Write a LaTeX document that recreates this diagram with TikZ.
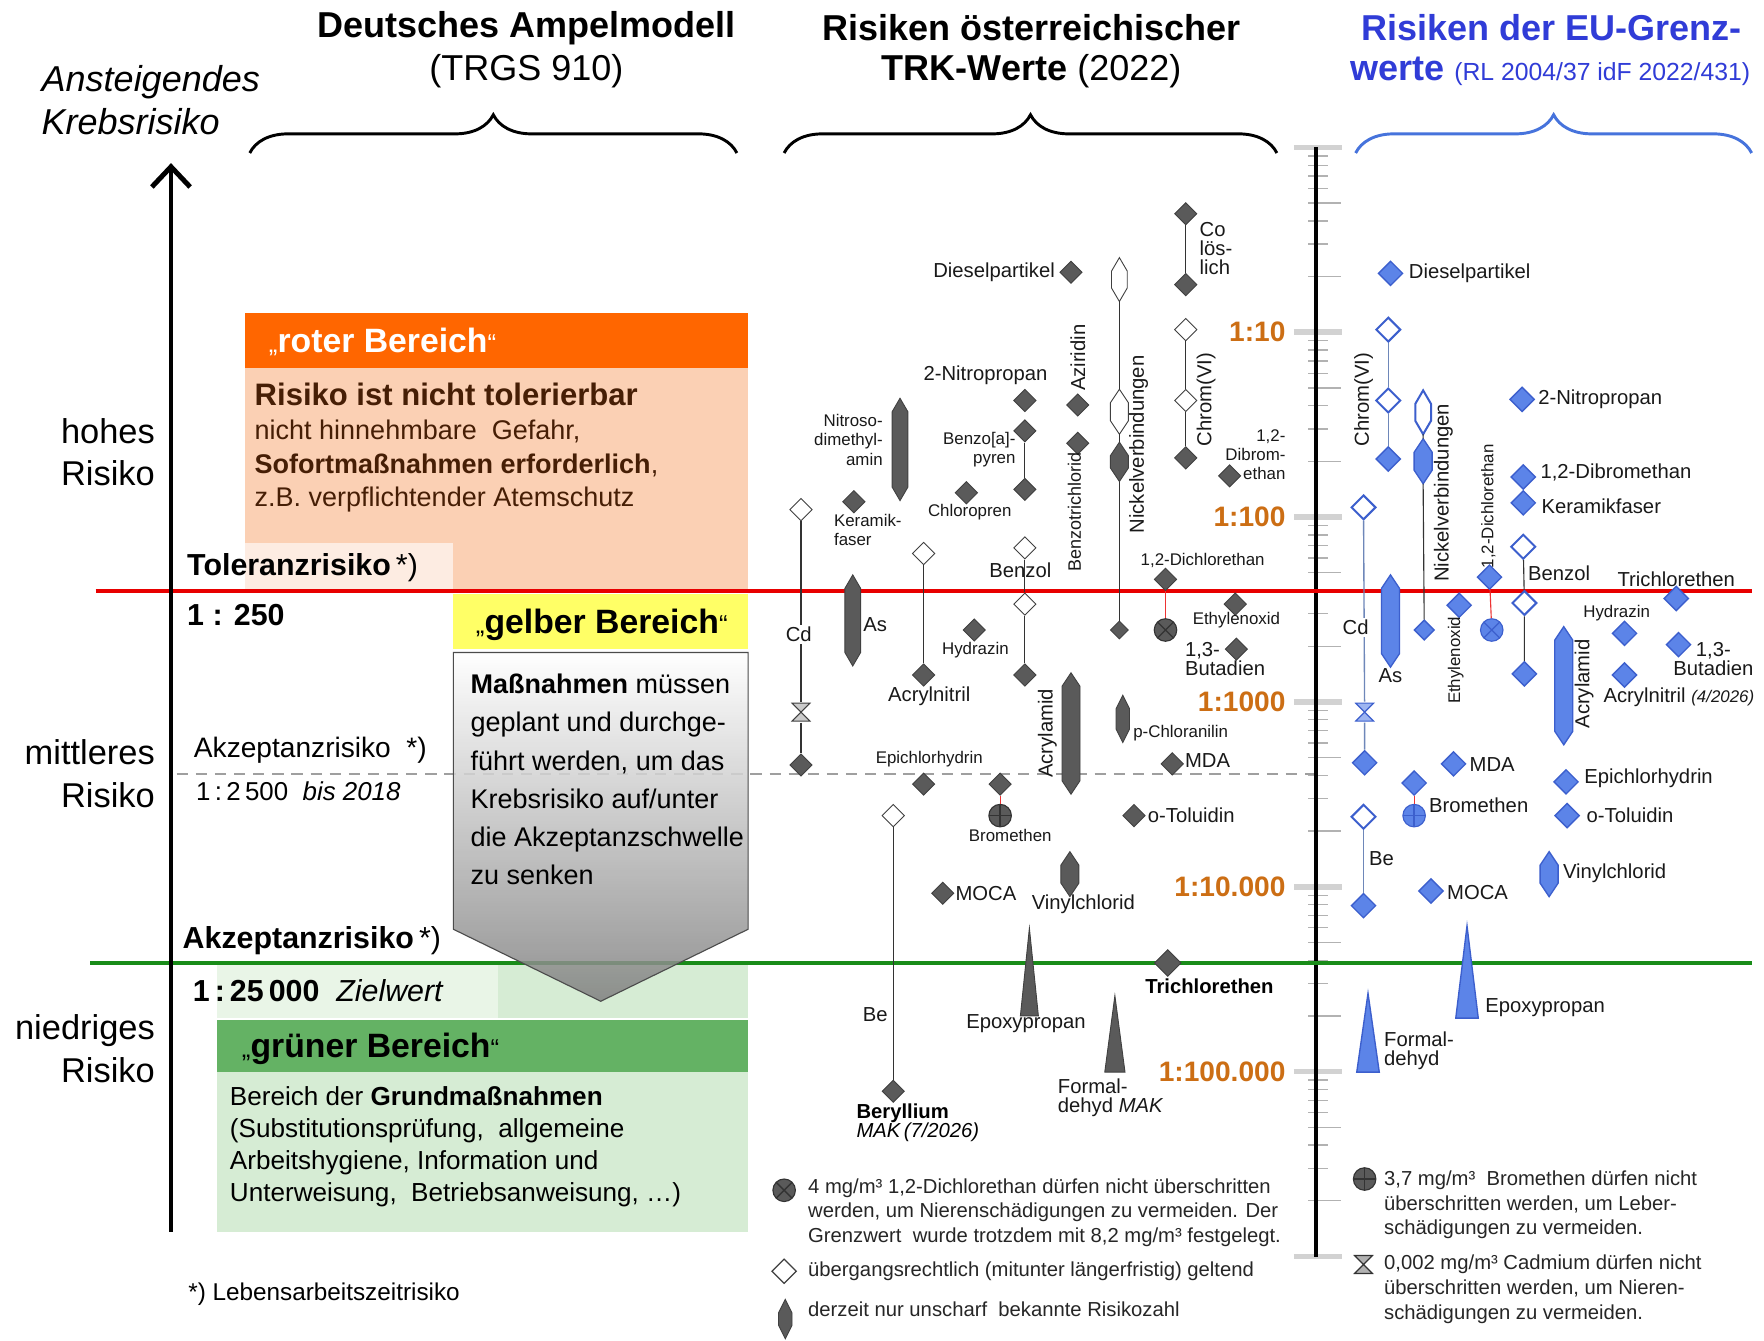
\documentclass[tikz,border=0pt]{standalone}
\usepackage{fontspec}
\setmainfont{Liberation Sans}
\usetikzlibrary{shapes.geometric, decorations.pathreplacing, arrows.meta}

\definecolor{mkgray}{RGB}{90,90,90}
\definecolor{eublue}{RGB}{92,132,232}
\definecolor{eudark}{RGB}{60,95,205}
\definecolor{eugray}{RGB}{110,135,185}
\definecolor{eutitle}{RGB}{48,60,215}
\definecolor{eubrace}{RGB}{70,115,220}
\definecolor{scaleor}{RGB}{204,110,20}
\definecolor{rothead}{RGB}{255,102,0}
\definecolor{rotbody}{RGB}{251,208,180}
\definecolor{rotlight}{RGB}{253,236,226}
\definecolor{rottext}{RGB}{70,30,5}
\definecolor{gelb}{RGB}{255,255,102}
\definecolor{gruenhead}{RGB}{100,178,100}
\definecolor{gruenbody}{RGB}{214,236,212}
\definecolor{gruenlight}{RGB}{233,245,231}
\definecolor{linered}{RGB}{232,0,0}
\definecolor{linegreen}{RGB}{25,140,25}

\newcommand{\qm}[1]{{\mdseries\fontsize{11.5}{11.5}\selectfont#1}}
% hexagonal "fuzzy" marker: name, x, ytop, ybot, half width, style
\newcommand{\spindle}[6]{%
  \draw[#6] (#2,#3) -- (#2+#5,#3+12) -- (#2+#5,#4-12) -- (#2,#4) -- (#2-#5,#4-12) -- (#2-#5,#3+12) -- cycle;
  \coordinate (#1-t) at (#2,#3);
  \coordinate (#1-b) at (#2,#4);}
% triangle marker: name, x, yapex, ybase, half width, style
\newcommand{\spike}[6]{%
  \draw[#6] (#2,#3) -- (#2+#5,#4) -- (#2-#5,#4) -- cycle;
  \coordinate (#1-t) at (#2,#3);}

\tikzset{
  mk/.style={diamond, draw=black!75, fill=mkgray, minimum size=10pt, inner sep=0pt, line width=0.4pt},
  mko/.style={mk, fill=white},
  eu/.style={diamond, draw=eudark, fill=eublue, minimum size=11pt, inner sep=0pt, line width=0.6pt},
  euo/.style={eu, fill=white, line width=0.9pt},
  spf/.style={draw=black!75, fill=mkgray, line width=0.4pt},
  spo/.style={draw=black!75, fill=white, line width=0.4pt},
  euf/.style={draw=eudark, fill=eublue, line width=0.6pt},
  eufo/.style={draw=eudark, fill=white, line width=0.9pt},
  lb/.style={font=\fontsize{9}{8.5}\selectfont, inner sep=0.5pt, text=black!90},
  sl/.style={font=\fontsize{7.5}{8.5}\selectfont, inner sep=0.5pt, text=black!90},
  lg/.style={font=\fontsize{9}{11}\selectfont, inner sep=0pt, text=black!85},
  scl/.style={font=\fontsize{12.5}{13}\selectfont\bfseries, text=scaleor, inner sep=0pt},
  link/.style={black!80, line width=0.5pt},
  eulink/.style={eugray, line width=0.6pt},
  redlink/.style={linered!80, line width=0.5pt},
  xmark/.style 2 args={circle, draw=#2, fill=#1, minimum size=10pt, inner sep=0pt, line width=0.5pt,
    path picture={\draw[#2, line width=0.6pt]
      ([shift={(45:5pt)}]path picture bounding box.center) -- ([shift={(225:5pt)}]path picture bounding box.center)
      ([shift={(135:5pt)}]path picture bounding box.center) -- ([shift={(315:5pt)}]path picture bounding box.center);}},
  pmark/.style 2 args={circle, draw=#2, fill=#1, minimum size=10pt, inner sep=0pt, line width=0.5pt,
    path picture={\draw[#2, line width=0.6pt]
      ([shift={(0:5pt)}]path picture bounding box.center) -- ([shift={(180:5pt)}]path picture bounding box.center)
      ([shift={(90:5pt)}]path picture bounding box.center) -- ([shift={(270:5pt)}]path picture bounding box.center);}},
  hglass/.style 2 args={minimum size=9pt, inner sep=0pt,
    path picture={\draw[#2, fill=#1, line width=0.5pt]
      ([shift={(-4pt,4pt)}]path picture bounding box.center) -- ++(8pt,0pt) -- ++(-8pt,-8pt) -- ++(8pt,0pt) -- cycle;}},
  brc/.style={decorate, decoration={brace, amplitude=17pt}, line width=1.3pt}
}

\begin{document}
\begin{tikzpicture}[x=0.5pt, y=-0.5pt]
\useasboundingbox (0,0) rectangle (1568,1192);
\fill[white] (0,0) rectangle (1568,1192);

% titles
\node[font=\fontsize{16}{19}\selectfont\bfseries] (t1a) at (468,25) {Deutsches Ampelmodell};
\node[font=\fontsize{16}{19}\selectfont] (t1b) at (468,63) {(TRGS 910)};
\node[font=\fontsize{16}{19}\selectfont\bfseries] (t2a) at (917,25) {Risiken österreichischer};
\node[font=\fontsize{16}{19}\selectfont] (t2b) at (917,63) {\textbf{TRK-Werte} (2022)};
\node[font=\fontsize{16}{19}\selectfont\bfseries, text=eutitle] (t3a) at (1379,25) {Risiken der EU-Grenz-};
\node[font=\fontsize{16}{19}\selectfont, text=eutitle] (t3b) at (1378,63) {\textbf{werte} {\fontsize{11}{12}\selectfont(RL 2004/37 idF 2022/431)}};
\node[font=\fontsize{16}{19}\selectfont\itshape, anchor=west, align=left] (axt) at (30,89) {Ansteigendes\\Krebsrisiko};

\draw[brc] (222,136) -- (655,136);
\draw[brc] (697,136) -- (1135,136);
\draw[brc, eubrace] (1205,136) -- (1557,136);

% left column boxes
\fill[rothead] (218,278) rectangle (665,327);
\fill[rotbody] (218,327) rectangle (665,524);
\fill[rotlight] (218,483) rectangle (403,524);
\fill[gelb] (403,528) rectangle (665,577);
\fill[gruenlight] (193,858) rectangle (443,905);
\fill[gruenbody] (443,858) rectangle (665,905);
\fill[gruenhead] (193,907) rectangle (665,953);
\fill[gruenbody] (193,953) rectangle (665,1095);

\node[anchor=west, font=\fontsize{15}{15}\selectfont\bfseries, text=white] (rot) at (232,304) {\qm{„}roter Bereich\qm{“}};
\node[anchor=west, align=left, font=\fontsize{12}{15}\selectfont, text=rottext, inner sep=0pt] (rottxt) at (226,398)
  {{\fontsize{13.8}{15}\selectfont\bfseries Risiko ist nicht tolerierbar}\\nicht hinnehmbare\ \ Gefahr,\\\textbf{Sofortmaßnahmen erforderlich},\\z.B.\ verpflichtender Atemschutz};
\node[anchor=west, font=\fontsize{15}{15}\selectfont\bfseries] (gelb) at (416,555) {\qm{„}gelber Bereich\qm{“}};
\node[anchor=west, font=\fontsize{15}{15}\selectfont\bfseries] (gruen) at (208,932) {\qm{„}grüner Bereich\qm{“}};
\node[anchor=west, align=left, font=\fontsize{11.6}{14.2}\selectfont, inner sep=0pt] (gruentxt) at (204,1019)
  {Bereich der \textbf{Grundmaßnahmen}\\(Substitutionsprüfung,\ \ allgemeine\\Arbeitshygiene, Information und\\Unterweisung,\ \ Betriebsanweisung, …)};

% limits
\node[anchor=west, font=\fontsize{13.5}{14}\selectfont, inner sep=0pt] (tol) at (166,505) {\textbf{Toleranzrisiko}\,*)};
\node[anchor=west, font=\fontsize{13.5}{14}\selectfont\bfseries, inner sep=0pt] (tolv) at (166,547) {1 : 250};
\node[anchor=west, font=\fontsize{12.5}{14}\selectfont, inner sep=0pt] (akz1) at (172,667) {Akzeptanzrisiko\ \ *)};
\node[anchor=west, font=\fontsize{11.5}{14}\selectfont, inner sep=0pt] (akz1v) at (174,703) {1\,:\,2\,500\ \ \textit{bis 2018}};
\node[anchor=west, font=\fontsize{13.5}{14}\selectfont, inner sep=0pt] (akz2) at (162,836) {\textbf{Akzeptanzrisiko}\,*)};
\node[anchor=west, font=\fontsize{13.5}{14}\selectfont, inner sep=0pt] (akz2v) at (171,881) {\textbf{1\,:\,25\,000}\ \ \textit{Zielwert}};

\node[anchor=east, align=right, font=\fontsize{15.3}{19}\selectfont, inner sep=0pt] (hoch) at (138,402) {hohes\\Risiko};
\node[anchor=east, align=right, font=\fontsize{15.3}{19}\selectfont, inner sep=0pt] (mittel) at (138,688) {mittleres\\Risiko};
\node[anchor=east, align=right, font=\fontsize{15.3}{19}\selectfont, inner sep=0pt] (niedrig) at (138,932) {niedriges\\Risiko};
\node[anchor=west, font=\fontsize{10.8}{12}\selectfont, inner sep=0pt] (fn) at (167,1150) {*) Lebensarbeitszeitrisiko};

% scale
\draw[gray!75, line width=1.1pt, dash pattern=on 5pt off 3.5pt] (157,688) -- (1168,688);
\foreach \j in {0,...,6}
  \draw[gray!35, line width=2.5pt] (1150,{131+164.3*\j}) -- (1193,{131+164.3*\j});
\foreach \k in {0,...,5}{
  \foreach \m in {2,...,9}{
    \pgfmathsetmacro{\ty}{131+164.3*(\k+1-log10(\m))}
    \pgfmathsetmacro{\tx}{(\m==2 || \m==5) ? 1192 : 1180}
    \draw[gray!60, line width=0.6pt] (1163,\ty) -- (\tx,\ty);
  }
}
\draw[line width=1.6pt] (1170,131) -- (1170,1117);
\foreach \j/\t in {1/1:10, 2/1:100, 3/1:1000, 4/1:10.000, 5/1:100.000}
  \node[scl, anchor=east] (s\j) at (1143,{131+164.3*\j}) {\t};

\draw[linered, line width=1.8pt] (85,525) -- (1557,525);
\draw[linegreen, line width=1.8pt] (80,856) -- (1557,856);
\draw[line width=2.2pt, -{Straight Barb[length=9pt, width=17pt]}] (152,1095) -- (152,145);

\draw[black!70, line width=0.5pt, top color=white, bottom color=black!50, fill opacity=0.85]
  (403,580) -- (665,580) -- (665,826) -- (534,890) -- (403,826) -- cycle;
\node[anchor=west, align=left, font=\fontsize{12}{17}\selectfont, inner sep=0pt] (grautxt) at (418,693)
  {\textbf{Maßnahmen} müssen\\geplant\ und\ durchge-\\führt\ werden,\ um\ das\\Krebsrisiko auf/unter\\die Akzeptanzschwelle\\zu\ senken};

% Austrian TRK values
\node[mk] (co1) at (1054,190) {};
\node[mk] (co2) at (1054,253) {};
\draw[link] (co1) -- (co2);
\node[lb, anchor=west, align=left] (l-co) at (1065,221) {Co\\lös-\\lich};
\node[mk] (diesel) at (952,242) {};
\node[lb, anchor=east] (l-diesel) at (939,242) {Dieselpartikel};

\spindle{ni1}{995}{229}{268}{7}{spo}
\spindle{ni2}{995}{346}{386}{8}{spo}
\spindle{ni3}{995}{393}{428}{8}{spf}
\node[mk, minimum size=8pt] (ni4) at (995,560) {};
\draw[link] (ni1-b) -- (ni2-t) (ni2-b) -- (ni3-t) (ni3-b) -- (ni4);
\node[lb, rotate=90] (l-ni) at (1012,395) {Nickelverbindungen};

\node[mko] (cr1) at (1054,293) {};
\node[mko] (cr2) at (1054,356) {};
\node[mk] (cr3) at (1054,407) {};
\draw[link] (cr1) -- (cr2) -- (cr3);
\node[lb, rotate=90] (l-cr) at (1072,355) {Chrom(VI)};

\node[mk] (dbe) at (1093,423) {};
\node[sl, anchor=east, align=right] (l-dbe) at (1144,404) {1,2-\\Dibrom-\\ethan};
\node[mk] (azi) at (958,360) {};
\node[lb, rotate=90] (l-azi) at (958,318) {Aziridin};
\node[mk] (btc) at (958,394) {};
\node[sl, font=\fontsize{8}{8}\selectfont, rotate=90] (l-btc) at (955,455) {Benzotrichlorid};
\node[mk] (nip) at (911,356) {};
\node[lb] (l-nip) at (876,334) {2-Nitropropan};
\node[mk] (bap1) at (911,383) {};
\node[mk] (bap2) at (911,435) {};
\draw[link] (bap1) -- (bap2);
\node[sl, anchor=east, align=right] (l-bap) at (904,400) {Benzo[a]-\\pyren};
\node[mk] (cp) at (859,438) {};
\node[sl] (l-cp) at (862,455) {Chloropren};
\spindle{ndma}{800}{354}{445}{7}{spf}
\node[sl, anchor=east, align=right] (l-ndma) at (786,391) {Nitroso-\\dimethyl-\\amin};
\node[mk] (kf) at (759,446) {};
\node[sl, anchor=west, align=left] (l-kf) at (740,471) {Keramik-\\faser};

\node[mko] (cd1) at (712,453) {};
\node[hglass={white!80!black}{black!75}] (cd2) at (712,633) {};
\node[mk] (cd3) at (712,680) {};
\draw[link] (cd1) -- (cd2) -- (cd3);
\node[lb, fill=white, inner sep=1pt] (l-cd) at (710,564) {Cd};
\spindle{as}{758}{511}{592}{7}{spf}
\node[lb] (l-as) at (778,555) {As};
\node[mko] (an1) at (821,492) {};
\node[mk] (an2) at (821,600) {};
\draw[link] (an1) -- (an2);
\node[lb] (l-an) at (826,619) {Acrylnitril};
\node[mko] (bz1) at (911,487) {};
\node[mko] (bz2) at (911,537) {};
\node[mk] (bz3) at (911,600) {};
\draw[link] (bz1) -- (bz2) -- (bz3);
\node[lb] (l-bz) at (907,507) {Benzol};
\node[mk] (hyd) at (866,560) {};
\node[sl] (l-hyd) at (867,578) {Hydrazin};
\node[sl] (l-dce) at (1069,498) {1,2-Dichlorethan};
\node[mk] (dce1) at (1036,515) {};
\node[xmark={mkgray}{black!80}] (dce2) at (1036,560) {};
\draw[redlink] (dce1) -- (dce2);
\node[mk] (eo) at (1098,537) {};
\node[sl] (l-eo) at (1099,551) {Ethylenoxid};
\node[mk] (bd) at (1099,577) {};
\node[lb, anchor=west, align=left] (l-bd) at (1052,586) {1,3-\\Butadien};
\spindle{aa}{952}{598}{706}{8}{spf}
\node[lb, rotate=90] (l-aa) at (931,652) {Acrylamid};
\spindle{pca}{998}{618}{660}{6}{spf}
\node[sl, anchor=west] (l-pca) at (1006,652) {p-Chloranilin};
\node[mk] (mda) at (1042,679) {};
\node[lb, anchor=west] (l-mda) at (1052,676) {MDA};
\node[sl] (l-ech) at (826,675) {Epichlorhydrin};
\node[mk] (ech) at (821,697) {};
\node[mk] (bre1) at (889,697) {};
\node[pmark={mkgray}{black!80}] (bre2) at (889,725) {};
\draw[redlink] (bre1) -- (bre2);
\node[sl] (l-bre) at (898,743) {Bromethen};
\node[mko] (be1) at (794,725) {};
\node[mk] (be2) at (794,970) {};
\draw[link] (be1) -- (be2);
\node[lb] (l-be) at (778,902) {Be};
\node[lb, anchor=north west, align=left, text=black] (l-bey) at (760,980) {\textbf{Beryllium}\\\textit{MAK\,(7/2026)}};
\node[mk] (otol) at (1008,725) {};
\node[lb, anchor=west] (l-otol) at (1019,725) {o-Toluidin};
\node[mk] (moca) at (838,794) {};
\node[lb, anchor=west] (l-moca) at (848,794) {MOCA};
\spindle{vc}{951}{757}{797}{8}{spf}
\node[lb] (l-vc) at (963,804) {Vinylchlorid};
\spike{ep}{915}{825}{903}{8}{spf}
\node[lb] (l-ep) at (912,910) {Epoxypropan};
\node[mk, minimum size=12pt] (tce) at (1038,856) {};
\node[lb, font=\fontsize{9}{9}\selectfont\bfseries, text=black] (l-tce) at (1075,877) {Trichlorethen};
\spike{fa}{991}{885}{953}{9}{spf}
\node[lb, anchor=west, align=left] (l-fa) at (939,976) {Formal-\\dehyd \textit{MAK}};

% EU limit values
\node[eu] (e-diesel) at (1236,243) {};
\node[lb, anchor=west] (el-diesel) at (1251,243) {Dieselpartikel};
\node[euo] (ecr1) at (1234,293) {};
\node[euo] (ecr2) at (1234,356) {};
\node[eu] (ecr3) at (1234,408) {};
\draw[eulink] (ecr1) -- (ecr2) -- (ecr3);
\node[lb, rotate=90] (el-cr) at (1212,355) {Chrom(VI)};
\spindle{eni1}{1265}{347}{386}{7}{eufo}
\spindle{eni2}{1265}{390}{430}{8}{euf}
\node[eu, minimum size=9pt] (eni3) at (1266,560) {};
\draw[link] (eni1-b) -- (eni2-t) (eni2-b) -- (eni3);
\node[lb, rotate=90] (el-ni) at (1283,438) {Nickelverbindungen};
\node[sl, rotate=90] (el-dce) at (1323,450) {1,2-Dichlorethan};
\node[eu] (edce1) at (1324,513) {};
\node[xmark={eublue}{eudark}] (edce2) at (1326,560) {};
\draw[redlink] (edce1) -- (edce2);
\node[eu] (enip) at (1353,355) {};
\node[lb, anchor=west] (el-nip) at (1366,355) {2-Nitropropan};
\node[eu] (edbe) at (1354,424) {};
\node[lb, anchor=west] (el-dbe) at (1368,420) {1,2-Dibromethan};
\node[eu] (ekf) at (1354,447) {};
\node[lb, anchor=west] (el-kf) at (1369,450) {Keramikfaser};
\node[euo] (ebz1) at (1354,486) {};
\node[euo] (ebz2) at (1355,536) {};
\node[eu] (ebz3) at (1355,599) {};
\draw[link] (ebz1) -- (ebz2) -- (ebz3);
\node[lb, anchor=west] (el-bz) at (1357,510) {Benzol};
\node[eu] (etce) at (1490,532) {};
\node[lb] (el-tce) at (1490,515) {Trichlorethen};
\node[euo] (ecd1) at (1212,451) {};
\node[hglass={eublue!60}{eudark}] (ecd2) at (1213,633) {};
\node[eu] (ecd3) at (1213,678) {};
\draw[eulink] (ecd1) -- (ecd2) -- (ecd3);
\node[lb, fill=white, inner sep=1pt] (el-cd) at (1205,558) {Cd};
\spindle{eas}{1236}{511}{593}{8}{euf}
\node[lb] (el-as) at (1236,601) {As};
\node[eu] (eeo) at (1297,538) {};
\node[sl, rotate=90] (el-eo) at (1294,587) {Ethylenoxid};
\node[sl] (el-hyd) at (1437,545) {Hydrazin};
\node[eu] (ehyd) at (1444,563) {};
\node[eu] (ebd) at (1492,573) {};
\node[lb, align=center] (el-bd) at (1523,586) {1,3-\\Butadien};
\node[eu] (ean) at (1444,600) {};
\node[lb, anchor=west] (el-an) at (1424,620) {Acrylnitril\ \textit{\fontsize{7.5}{8}\selectfont(4/2026)}};
\spindle{eaa}{1390}{557}{662}{8}{euf}
\node[lb, rotate=90] (el-aa) at (1408,608) {Acrylamid};
\node[eu] (emda) at (1292,679) {};
\node[lb, anchor=west] (el-mda) at (1305,680) {MDA};
\node[eu] (ebre1) at (1257,696) {};
\node[pmark={eublue}{eudark}] (ebre2) at (1257,725) {};
\draw[redlink] (ebre1) -- (ebre2);
\node[lb, anchor=west] (el-bre) at (1269,716) {Bromethen};
\node[eu] (eech) at (1392,695) {};
\node[lb, anchor=west] (el-ech) at (1407,692) {Epichlorhydrin};
\node[eu] (eotol) at (1393,725) {};
\node[lb, anchor=west] (el-otol) at (1409,725) {o-Toluidin};
\node[euo] (ebe1) at (1212,726) {};
\node[eu] (ebe2) at (1212,805) {};
\draw[eulink] (ebe1) -- (ebe2);
\node[lb] (el-be) at (1228,763) {Be};
\node[eu] (emoca) at (1272,792) {};
\node[lb, anchor=west] (el-moca) at (1285,793) {MOCA};
\spindle{evc}{1377}{757}{797}{8}{euf}
\node[lb, anchor=west] (el-vc) at (1388,776) {Vinylchlorid};
\spike{eep}{1304}{823}{905}{10}{euf}
\node[lb, anchor=west] (el-ep) at (1319,896) {Epoxypropan};
\spike{efa}{1216}{883}{953}{10}{euf}
\node[lb, anchor=west, align=left] (el-fa) at (1229,934) {Formal-\\dehyd};

% legend
\node[xmark={mkgray}{black!80}] (k-dce) at (697,1058) {};
\node[lg, anchor=west, align=left] (t-dce) at (718,1078) {4 mg/m³ 1,2-Dichlorethan dürfen nicht überschritten\\werden, um Nierenschädigungen zu vermeiden. Der\\Grenzwert\ \ wurde trotzdem mit 8,2 mg/m³ festgelegt.};
\node[mko, minimum size=11pt, line width=0.5pt] (k-open) at (697,1130) {};
\node[lg, anchor=west] (t-open) at (718,1130) {übergangsrechtlich (mitunter längerfristig) geltend};
\spindle{k-sp}{698}{1155}{1190}{6}{spf}
\node[lg, anchor=west] (t-sp) at (718,1164) {derzeit nur unscharf\ \ bekannte Risikozahl};
\node[pmark={mkgray}{black!80}] (k-bre) at (1213,1048) {};
\node[lg, anchor=west, align=left] (t-bre) at (1230,1071) {3,7 mg/m³\ \ Bromethen dürfen nicht\\überschritten werden, um Leber-\\schädigungen zu vermeiden.};
\node[hglass={white!70!black}{black!80}] (k-cd) at (1212,1124) {};
\node[lg, anchor=west, align=left] (t-cd) at (1230,1146) {0,002 mg/m³ Cadmium dürfen nicht\\überschritten werden, um Nieren-\\schädigungen zu vermeiden.};
\end{tikzpicture}
\end{document}
